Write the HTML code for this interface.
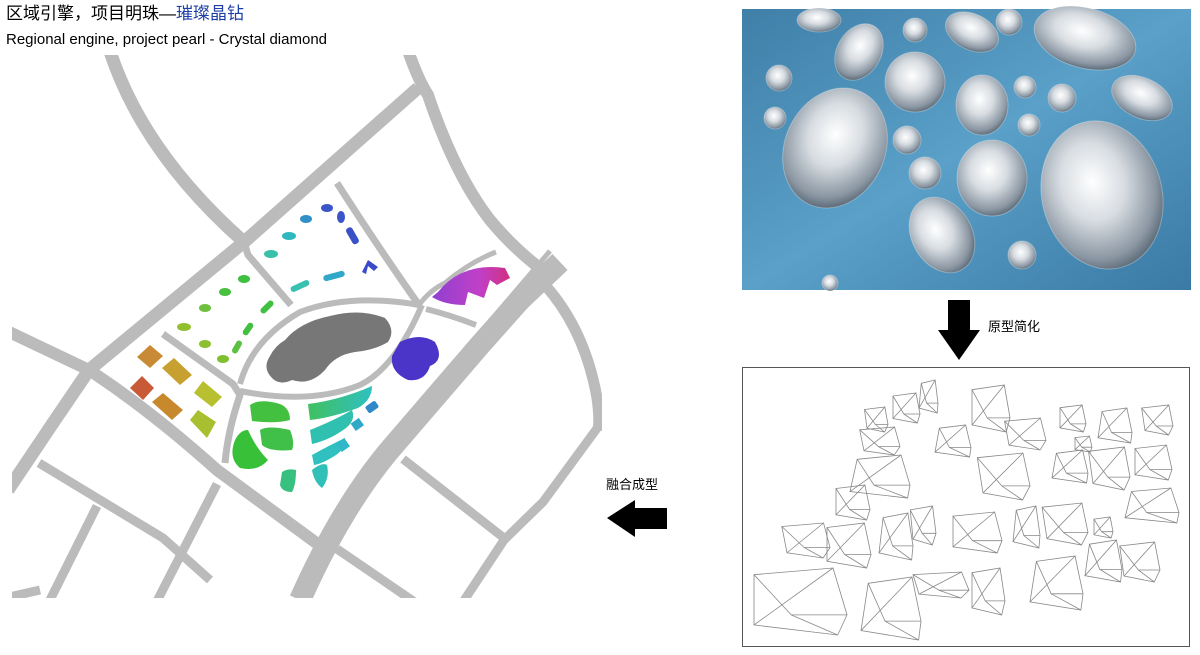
<!DOCTYPE html>
<html><head><meta charset="utf-8"><style>
html,body{margin:0;padding:0;background:#fff;}
body{width:1200px;height:655px;position:relative;overflow:hidden;font-family:"Liberation Sans","Noto Sans CJK SC",sans-serif;}
.t{position:absolute;white-space:nowrap;color:#000;}
</style></head><body>
<svg width="1200" height="655" style="position:absolute;left:0;top:0" xmlns="http://www.w3.org/2000/svg">
<defs>
<clipPath id="mapc"><rect x="12" y="55" width="590" height="543"/></clipPath>
<linearGradient id="gL" x1="0" y1="0" x2="1" y2="0"><stop offset="0" stop-color="#c8502f"/><stop offset="0.5" stop-color="#c8a030"/><stop offset="1" stop-color="#a8c830"/></linearGradient>
<linearGradient id="gG" x1="0" y1="0" x2="1" y2="0"><stop offset="0" stop-color="#40c060"/><stop offset="1" stop-color="#30c0c0"/></linearGradient>
<linearGradient id="gP" x1="0" y1="0" x2="1" y2="0"><stop offset="0" stop-color="#9040d0"/><stop offset="0.6" stop-color="#c040c8"/><stop offset="1" stop-color="#d03080"/></linearGradient>
<radialGradient id="dia" cx="0.45" cy="0.4" r="0.65"><stop offset="0" stop-color="#ffffff"/><stop offset="0.4" stop-color="#d8dde2"/><stop offset="0.8" stop-color="#8a96a2"/><stop offset="1" stop-color="#4a5a68"/></radialGradient>
<linearGradient id="bg" x1="0" y1="0" x2="1" y2="1"><stop offset="0" stop-color="#3f7fa8"/><stop offset="0.5" stop-color="#5aa0c8"/><stop offset="1" stop-color="#3a7aa5"/></linearGradient>
</defs>

<!-- MAP roads -->
<g clip-path="url(#mapc)" fill="none" stroke="#bbbbbb" stroke-linecap="butt" stroke-linejoin="round">
 <path d="M108,45 Q140,150 244,242" stroke-width="13"/>
 <path d="M418,88 L244,242 L89,370 L55,420 L8,490" stroke-width="13"/>
 <path d="M406,45 Q418,80 428,95 Q455,175 490,220 Q515,250 545,272" stroke-width="12"/>
 <path d="M5,330 L89,370 Q150,410 217,470 L330,553" stroke-width="12"/>
 <path d="M560,262 L520,300 L480,345 L388,452 Q340,510 300,600" stroke-width="22"/>
 <path d="M550,251 L473,341 M562,266 L484,352" stroke-width="5"/>
 <path d="M545,285 Q585,330 597,398 Q600,420 598,430" stroke-width="11"/>
 <path d="M598,427 L543,502 L504,540 L461,605" stroke-width="9"/>
 <path d="M403,459 L504,538" stroke-width="9"/>
 <path d="M337,549 L419,605" stroke-width="9"/>
 <path d="M244,242 L248,255 L291,305" stroke-width="7"/>
 <path d="M337,183 Q380,250 419,305" stroke-width="7"/>
 <path d="M163,334 L233,384 L240,395 Q228,430 225,463" stroke-width="7"/>
 <path d="M240,384 Q252,340 300,312 Q350,293 419,305" stroke-width="6"/>
 <path d="M240,391 Q310,405 360,385 Q395,368 422,305" stroke-width="6"/>
 <path d="M419,305 Q430,290 445,283 Q470,262 496,252" stroke-width="5"/>
 <path d="M426,309 Q450,315 476,325" stroke-width="6"/>
 <path d="M39,463 L163,538 L210,580" stroke-width="9"/>
 <path d="M97,506 L50,600" stroke-width="9"/>
 <path d="M217,484 L155,605" stroke-width="9"/>
 <path d="M5,598 L40,590" stroke-width="9"/>
</g>
<!-- center blob -->
<path d="M285,340 Q300,322 330,316 Q360,308 385,318 Q396,330 388,342 Q375,350 355,352 Q335,355 325,370 Q310,386 292,380 Q280,386 272,378 Q262,368 270,356 Q275,346 285,340Z" fill="#777"/>
<path d="M400,342 Q420,332 435,342 Q445,360 430,366 Q425,382 408,380 Q390,372 392,356Z" fill="#4a35c8"/>
<path d="M438,292 Q462,262 505,268 L510,278 L497,285 L490,280 L484,298 L468,292 L465,305 Q445,305 432,297Z" fill="url(#gP)"/>
<!-- top block dots -->
<g>
 <ellipse cx="327" cy="208" rx="6" ry="4" fill="#3a55c8"/>
 <ellipse cx="341" cy="217" rx="4" ry="6" fill="#3a55c8"/>
 <ellipse cx="306" cy="219" rx="6" ry="4" fill="#3090c8"/>
 <ellipse cx="289" cy="236" rx="7" ry="4" fill="#30b8c0"/>
 <ellipse cx="271" cy="254" rx="7" ry="4" fill="#38c0a8"/>
 <rect x="349" y="227" width="7" height="18" rx="3" fill="#3a50c8" transform="rotate(-30 352 236)"/>
 <path d="M362,272 L368,260 L378,267 L374,271 L368,266 L366,274Z" fill="#3a4ac8"/>
 <rect x="290" y="283" width="20" height="6" rx="3" fill="#38c0b0" transform="rotate(-25 300 286)"/>
 <rect x="323" y="273" width="22" height="6" rx="3" fill="#30a8c8" transform="rotate(-15 334 276)"/>
 <ellipse cx="244" cy="279" rx="6" ry="4" fill="#40c040"/>
 <ellipse cx="225" cy="292" rx="6" ry="4" fill="#48c040"/>
 <ellipse cx="205" cy="308" rx="6" ry="4" fill="#70c040"/>
 <ellipse cx="184" cy="327" rx="7" ry="4" fill="#90c030"/>
 <ellipse cx="205" cy="344" rx="6" ry="4" fill="#8cc030"/>
 <ellipse cx="223" cy="359" rx="6" ry="4" fill="#80c030"/>
 <rect x="230" y="344" width="14" height="6" rx="3" fill="#5cc040" transform="rotate(-60 237 347)"/>
 <rect x="241" y="326" width="14" height="6" rx="3" fill="#40c040" transform="rotate(-55 248 329)"/>
 <rect x="259" y="304" width="16" height="6" rx="3" fill="#40c040" transform="rotate(-45 267 307)"/>
</g>
<!-- left block buildings -->
<g>
 <polygon points="137,357 150,345 163,356 150,368" fill="#c88a34"/>
 <polygon points="130,388 142,376 154,388 143,400" fill="#c85a38"/>
 <polygon points="162,368 174,358 192,375 180,385" fill="#c8a030"/>
 <polygon points="152,402 163,393 183,410 172,420" fill="#c8882c"/>
 <polygon points="194,393 203,381 222,397 212,407" fill="#b8c030"/>
 <polygon points="190,420 198,410 216,422 207,438" fill="#a8c030"/>
</g>
<!-- lower block buildings -->
<g>
 <path d="M250,405 Q260,398 280,404 Q290,408 290,420 Q275,424 252,421Z" fill="#44c040"/>
 <path d="M260,430 Q268,425 290,430 Q295,442 292,450 Q270,452 262,445Z" fill="#40c048"/>
 <path d="M235,440 Q240,430 248,430 Q256,448 268,460 Q258,472 240,468 Q228,458 235,440Z" fill="#38c038"/>
 <path d="M282,472 Q288,468 296,470 Q296,485 292,492 Q282,492 280,485Z" fill="#38c080"/>
 <path d="M312,470 Q322,462 327,465 Q330,478 322,488 Q314,482 312,470Z" fill="#30c0b8"/>
 <path d="M308,404 Q340,400 372,386 Q372,400 358,408 Q330,418 310,420Z" fill="url(#gG)"/>
 <path d="M310,430 Q335,420 352,410 Q356,420 346,428 Q330,440 312,444Z" fill="#30c0b0"/>
 <path d="M312,455 Q330,445 345,438 Q346,448 336,455 Q322,464 314,465Z" fill="#30c0c0"/>
 <rect x="366" y="403" width="12" height="8" rx="2" fill="#3088c8" transform="rotate(-35 372 407)"/>
 <rect x="352" y="420" width="10" height="9" fill="#30a8c8" transform="rotate(-35 357 424)"/>
 <rect x="338" y="440" width="10" height="10" fill="#30b8c8" transform="rotate(-35 343 445)"/>
</g>

<!-- PHOTO -->
<rect x="742" y="9" width="449" height="281" fill="url(#bg)"/>
<g stroke="#ffffff" stroke-opacity="0.3" stroke-width="1">
<ellipse cx="835" cy="148" rx="50" ry="62" fill="url(#dia)" transform="rotate(25 835 148)"/>
<ellipse cx="1102" cy="195" rx="60" ry="75" fill="url(#dia)" transform="rotate(-15 1102 195)"/>
<ellipse cx="992" cy="178" rx="35" ry="38" fill="url(#dia)"/>
<ellipse cx="942" cy="235" rx="30" ry="40" fill="url(#dia)" transform="rotate(-30 942 235)"/>
<ellipse cx="915" cy="82" rx="30" ry="30" fill="url(#dia)"/>
<ellipse cx="859" cy="52" rx="22" ry="30" fill="url(#dia)" transform="rotate(30 859 52)"/>
<ellipse cx="1085" cy="38" rx="52" ry="30" fill="url(#dia)" transform="rotate(15 1085 38)"/>
<ellipse cx="982" cy="105" rx="26" ry="30" fill="url(#dia)"/>
<ellipse cx="972" cy="32" rx="28" ry="18" fill="url(#dia)" transform="rotate(25 972 32)"/>
<ellipse cx="1142" cy="98" rx="32" ry="20" fill="url(#dia)" transform="rotate(25 1142 98)"/>
<circle cx="1062" cy="98" r="14" fill="url(#dia)"/>
<circle cx="1025" cy="87" r="11" fill="url(#dia)"/>
<circle cx="1029" cy="125" r="11" fill="url(#dia)"/>
<circle cx="907" cy="140" r="14" fill="url(#dia)"/>
<circle cx="925" cy="173" r="16" fill="url(#dia)"/>
<circle cx="779" cy="78" r="13" fill="url(#dia)"/>
<circle cx="775" cy="118" r="11" fill="url(#dia)"/>
<circle cx="915" cy="30" r="12" fill="url(#dia)"/>
<circle cx="1009" cy="22" r="13" fill="url(#dia)"/>
<ellipse cx="819" cy="20" rx="22" ry="12" fill="url(#dia)"/>
<circle cx="1022" cy="255" r="14" fill="url(#dia)"/>
<circle cx="830" cy="283" r="8" fill="url(#dia)"/>
</g>

<!-- arrows -->
<polygon points="948,300 970,300 970,330 980,330 959,360 938,330 948,330" fill="#000"/>
<polygon points="607,518 635,500 635,508 667,508 667,529 635,529 635,537" fill="#000"/>

<!-- wireframe box -->
<rect x="742.5" y="367.5" width="447" height="279" fill="#fff" stroke="#555" stroke-width="1"/>
<g id="wf" fill="none" stroke="#888" stroke-width="0.8"></g>
</svg>
<div class="t" style="left:6px;top:4px;font-size:17px;line-height:20px;">区域引擎，项目明珠—<span style="color:#1f3fa8">璀璨晶钻</span></div>
<div class="t" style="left:6px;top:31px;font-size:15px;line-height:18px;">Regional engine, project pearl - Crystal diamond</div>
<div class="t" style="left:988px;top:316px;font-size:13px;">原型简化</div>
<div class="t" style="left:606px;top:474px;font-size:13px;">融合成型</div>
<script>
var B=[[867,407,888,432],[893,393,920,423],[919,380,938,413],[864,427,900,455],[972,385,1010,432],[935,425,971,457],[1009,418,1046,450],[1060,405,1086,432],[1098,408,1132,443],[1145,405,1173,435],[1075,436,1092,452],[1052,450,1088,483],[1093,447,1130,490],[1135,445,1172,480],[850,455,910,498],[983,453,1030,500],[836,485,870,520],[1125,488,1179,523],[787,523,830,558],[827,523,871,568],[879,513,913,560],[913,506,936,545],[953,512,1002,553],[1013,506,1040,548],[1047,503,1088,545],[1094,517,1113,538],[1085,540,1122,582],[1124,542,1160,582],[754,568,847,635],[861,577,921,640],[919,572,969,598],[972,568,1005,615],[1030,556,1083,610]];
var NS='http://www.w3.org/2000/svg',g=document.getElementById('wf');
function el(t,a){var e=document.createElementNS(NS,t);for(var k in a)e.setAttribute(k,a[k]);g.appendChild(e);}
B.forEach(function(b,i){var x0=b[0],y0=b[1],x1=b[2],y1=b[3],w=x1-x0,h=y1-y0,d=(i%3-1)*w*0.12;
var p=[[x0+d,y0+h*0.1],[x1-w*0.15,y0],[x1,y1-h*0.3],[x1-w*0.1+d*0.5,y1],[x0,y1-h*0.15]];
var m=[x0+w*0.4,y1-h*0.3];
el('polygon',{points:p.map(function(q){return q.join(',')}).join(' ')});
el('polyline',{points:p[0].join(',')+' '+m.join(',')+' '+p[2].join(',')});
el('line',{x1:m[0],y1:m[1],x2:p[3][0],y2:p[3][1]});
el('line',{x1:p[1][0],y1:p[1][1],x2:p[4][0],y2:p[4][1]});});
</script>
</body></html>
